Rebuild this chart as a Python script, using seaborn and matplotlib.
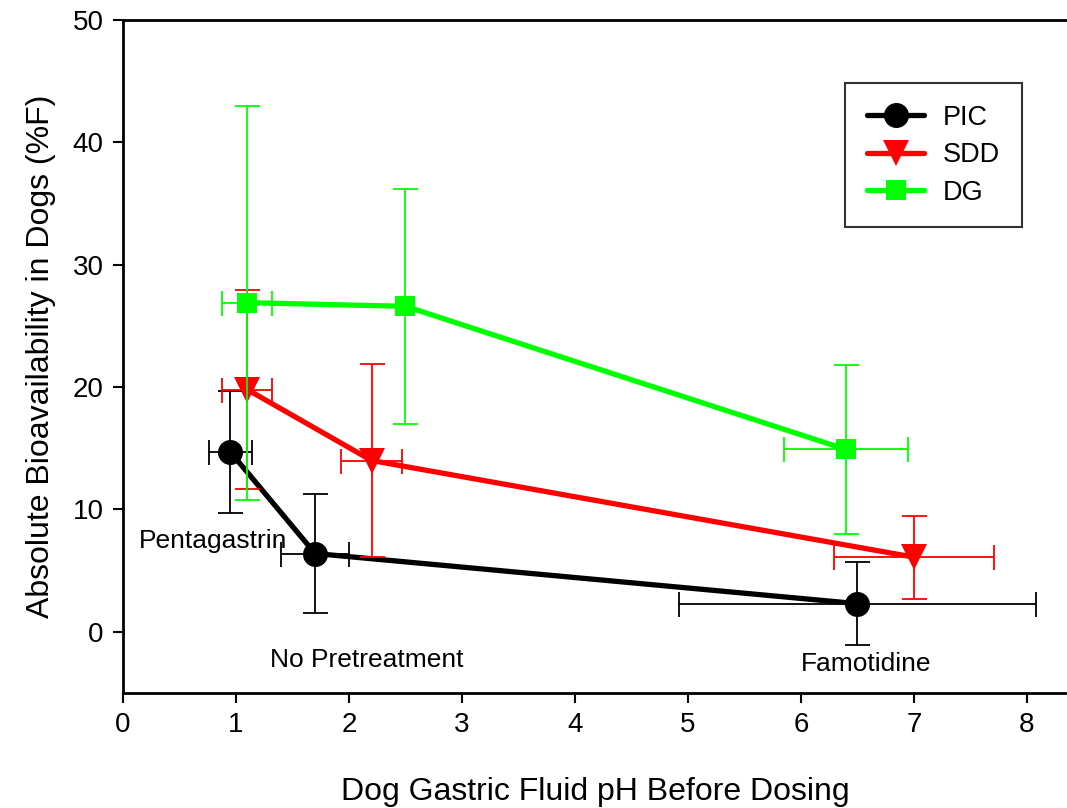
import matplotlib
matplotlib.use("Agg")
import matplotlib.pyplot as plt
import seaborn as sns
import pandas as pd
from matplotlib.lines import Line2D

# Gastric fluid pH (x) and absolute bioavailability %F (y), mean with SD
series_names = ["PIC", "SDD", "DG"]

pic_ph = [0.95, 1.70, 6.50]
pic_ph_sd = [0.19, 0.30, 1.58]
pic_f = [14.7, 6.4, 2.3]
pic_f_sd = [5.0, 4.9, 3.4]

sdd_ph = [1.10, 2.20, 7.00]
sdd_ph_sd = [0.22, 0.27, 0.71]
sdd_f = [19.8, 14.0, 6.1]
sdd_f_sd = [8.1, 7.9, 3.4]

dg_ph = [1.10, 2.50, 6.40]
dg_ph_sd = [0.22, 0.0, 0.55]
dg_f = [26.9, 26.6, 14.9]
dg_f_sd = [16.1, 9.6, 6.9]

treatments = ["Pentagastrin", "No Pretreatment", "Famotidine"]
x_ticks = [0, 1, 2, 3, 4, 5, 6, 7, 8]
y_ticks = [0, 10, 20, 30, 40, 50]

sns.set_theme(style="white")
plt.rcParams["font.family"] = ["Liberation Sans", "DejaVu Sans"]
plt.rcParams["text.color"] = "black"
plt.rcParams["axes.labelcolor"] = "black"

frames = []
for name, xs, xe, ys, ye in [
    ("PIC", pic_ph, pic_ph_sd, pic_f, pic_f_sd),
    ("SDD", sdd_ph, sdd_ph_sd, sdd_f, sdd_f_sd),
    ("DG", dg_ph, dg_ph_sd, dg_f, dg_f_sd),
]:
    frames.append(pd.DataFrame({"series": name, "ph": xs, "ph_sd": xe,
                                "f": ys, "f_sd": ye}))
df = pd.concat(frames, ignore_index=True)

colors = {"PIC": "#000000", "SDD": "#ff0000", "DG": "#00ff00"}
markers = {"PIC": "o", "SDD": "v", "DG": "s"}
msizes = {"PIC": 18, "SDD": 19, "DG": 15}

fig = plt.figure(figsize=(10.67, 8.08), dpi=100)
ax = fig.add_axes([123 / 1067, 115 / 808, 944 / 1067, 673 / 808])

z = 2
for name in series_names:
    sub = df[df["series"] == name]
    c = colors[name]
    xerr = sub["ph_sd"].where(sub["ph_sd"] > 0)
    ax.errorbar(sub["ph"], sub["f"], xerr=xerr, yerr=sub["f_sd"], fmt="none",
                ecolor=c, elinewidth=1.3, capsize=9, capthick=1.3, zorder=z)
    sns.lineplot(data=sub, x="ph", y="f", ax=ax, color=c, linewidth=3.8,
                 marker=markers[name], markersize=msizes[name],
                 markeredgewidth=0, markerfacecolor=c, sort=False,
                 zorder=z + 1, legend=False)
    z += 2

# treatment labels under each PIC point
label_pos = [(0.80, 7.4), (2.16, -2.3), (6.58, -2.6)]
for text, (lx, ly) in zip(treatments, label_pos):
    ax.text(lx, ly, text, ha="center", va="center", fontsize=19,
            color="black", zorder=20)

ax.set_xlim(0, (1067 - 123) / 113)
ax.set_ylim(-5, 50)
ax.set_xticks(x_ticks)
ax.set_yticks(y_ticks)
ax.tick_params(axis="both", direction="out", length=7, width=1.5,
               labelsize=20, colors="black", labelcolor="black", pad=7,
               bottom=True, left=True)
for side in ["left", "bottom", "top"]:
    ax.spines[side].set_visible(True)
    ax.spines[side].set_color("black")
    ax.spines[side].set_linewidth(2.0)
ax.spines["right"].set_visible(False)

ax.set_xlabel("Dog Gastric Fluid pH Before Dosing", fontsize=23, labelpad=28)
ax.set_ylabel("Absolute Bioavailability in Dogs (%F)", fontsize=23, labelpad=12)

handles = [Line2D([0], [0], color=colors[n], linewidth=3.8, marker=markers[n],
                  markersize=msizes[n], markeredgewidth=0)
           for n in series_names]
leg = ax.legend(handles, series_names, loc="upper right",
                bbox_to_anchor=(0.952, 0.906), borderaxespad=0, fontsize=19.5,
                frameon=True, fancybox=False, handlelength=2.1,
                borderpad=0.8, labelspacing=0.42, handletextpad=0.7)
leg.get_frame().set_edgecolor("black")
leg.get_frame().set_linewidth(1.5)
for t in leg.get_texts():
    t.set_color("black")

fig.savefig("out.png", dpi=100)
